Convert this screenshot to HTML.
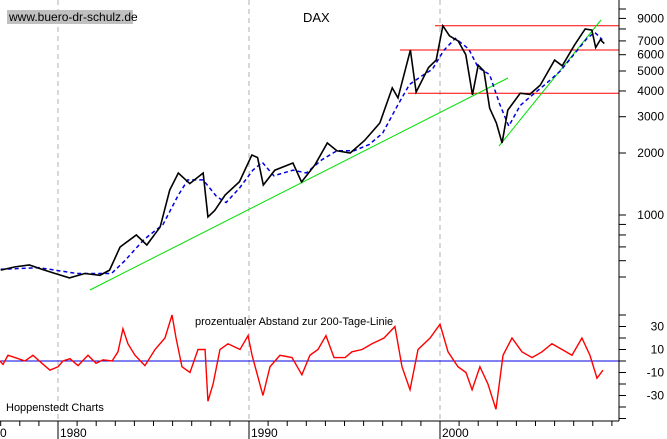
<!DOCTYPE html>
<html><head><meta charset="utf-8"><style>
html,body{margin:0;padding:0;background:#fff;}
svg{display:block;font-family:"Liberation Sans",Arial,sans-serif;}
</style></head><body>
<svg id="chart" width="667" height="439" viewBox="0 0 667 439" xmlns="http://www.w3.org/2000/svg">
<rect x="0" y="0" width="667" height="439" fill="#fff"/>
<g id="grid"></g>
<rect x="7" y="10" width="126" height="14" fill="#c0c0c0"/>
<text x="9" y="21" font-size="12" fill="#000">www.buero-dr-schulz.de</text>
<text x="303" y="22" font-size="13" fill="#000">DAX</text>
<text x="195" y="325" font-size="11" fill="#000">prozentualer Abstand zur 200-Tage-Linie</text>
<text x="6" y="411" font-size="11" fill="#000">Hoppenstedt Charts</text>
<g id="marks"></g>
<g id="axes"></g>
</svg>
<script>
const priceYears=[1977.0,1977.75,1978.5,1979.15,1979.85,1980.6,1981.4,1982.2,1982.7,1983.25,1984.1,1984.65,1985.35,1985.85,1986.3,1986.9,1987.6,1987.85,1988.2,1988.75,1989.5,1990.15,1990.45,1990.75,1991.35,1992.3,1992.75,1993.45,1994.1,1994.6,1995.3,1996.05,1996.85,1997.5,1997.8,1998.45,1998.75,1999.4,1999.8,2000.15,2000.5,2000.95,2001.35,2001.7,2002.0,2002.3,2002.6,2002.95,2003.25,2003.55,2004.2,2004.7,2005.25,2006.0,2006.4,2007.05,2007.6,2007.95,2008.15,2008.4,2008.6];
const daxValues=[540,560,572,545,520,495,520,510,540,699,800,715,875,1322,1599,1420,1599,978,1050,1250,1450,1955,1900,1398,1650,1787,1446,1750,2237,2050,2000,2300,2797,4140,3700,6320,3950,5200,5650,8290,7400,7000,6000,3830,5340,5000,3300,2800,2237,3230,3900,3850,4270,5650,5300,6700,8000,7900,6500,7100,6800];
const maYears=[1977,1979,1981,1982.8,1983.5,1984.5,1985.5,1986.3,1986.8,1987.6,1988.3,1988.8,1989.5,1990.2,1990.7,1991.3,1992.3,1993,1993.8,1994.6,1995.5,1996.3,1997,1997.7,1998.4,1999,1999.6,2000.2,2000.8,2001.5,2002,2002.6,2003.1,2003.6,2004.2,2004.8,2005.5,2006.3,2007,2007.7,2008.1,2008.5];
const maValues=[545,555,520,520,600,760,900,1250,1480,1480,1230,1150,1350,1650,1800,1550,1650,1600,1850,2050,2050,2200,2500,3300,4300,4700,5100,6300,7200,6400,5200,4800,3500,2700,3400,3800,4300,5000,6000,7200,7700,7100];
const oscYears=[1976.96,1977.12,1977.38,1977.75,1978.27,1978.69,1979.16,1979.58,1980.0,1980.26,1980.63,1981.05,1981.57,1981.99,1982.36,1982.83,1983.14,1983.40,1983.66,1984.03,1984.55,1985.08,1985.60,1985.97,1986.18,1986.49,1986.91,1987.33,1987.70,1987.85,1988.12,1988.48,1988.90,1989.53,1989.95,1990.16,1990.73,1991.10,1991.62,1992.25,1992.77,1993.19,1993.61,1994.03,1994.45,1995.03,1995.39,1995.92,1996.44,1997.07,1997.64,1998.01,1998.43,1998.85,1999.48,2000.0,2000.42,2000.94,2001.36,2001.68,2002.09,2002.51,2002.93,2003.30,2003.77,2004.29,2004.82,2005.34,2005.86,2006.39,2006.91,2007.43,2007.85,2008.22,2008.53];
const oscValues=[0,-3,5,3,0,5,-2,-8,-5,0,2,-4,5,-2,1,0,8,28,15,5,-4,10,20,40,20,-5,-10,10,10,-35,-20,10,15,10,22,5,-30,-5,5,3,-12,5,10,22,3,3,8,10,15,20,30,-5,-25,10,20,32,8,-5,-10,-25,-5,-20,-42,5,20,8,3,8,15,10,5,20,5,-15,-8];
const priceTickValues=[1000,2000,3000,4000,5000,6000,7000,9000];
const priceTickLabels=["1000","2000","3000","4000","5000","6000","7000","9000"];
const oscTickValues=[30,10,-10,-30];
const oscTickLabels=["30","10","-10","-30"];
const decadeYears=[1980,1990,2000];
const decadeLabels=["1980","1990","2000"];

const NS="http://www.w3.org/2000/svg";
const xOf=y=>58+(y-1980)*19.1;
const yPrice=v=>215-206*Math.log10(v/1000);
const yOsc=p=>361-1.15*p;
function mk(tag,attrs,parent){const e=document.createElementNS(NS,tag);for(const k in attrs)e.setAttribute(k,attrs[k]);parent.appendChild(e);return e;}
const grid=document.getElementById('grid'),marks=document.getElementById('marks'),axes=document.getElementById('axes');

decadeYears.forEach(d=>{
  const l=mk('line',{x1:xOf(d),x2:xOf(d),y1:0,y2:421,stroke:'#b0b0b0','stroke-dasharray':'5,4'},grid);
  
  
});

const h1=mk('line',{x1:435,x2:619,y1:yPrice(8290),y2:yPrice(8290),stroke:'#f00','stroke-width':1},marks);


const h2=mk('line',{x1:400,x2:619,y1:yPrice(6320),y2:yPrice(6320),stroke:'#f00','stroke-width':1},marks);


const h3=mk('line',{x1:408,x2:619,y1:yPrice(3900),y2:yPrice(3900),stroke:'#f00','stroke-width':1},marks);


const t1=mk('line',{x1:90,y1:290,x2:508,y2:78,stroke:'#00e000','stroke-width':1},marks);


const t2=mk('line',{x1:499,y1:146,x2:601,y2:20,stroke:'#00e000','stroke-width':1},marks);



const zl=mk('line',{x1:0,x2:619,y1:yOsc(0),y2:yOsc(0),stroke:'#0000e0','stroke-width':1},marks);



const maPath=mk('polyline',{points:maYears.map((y,i)=>xOf(y)+','+yPrice(maValues[i])).join(' '),fill:'none',stroke:'#0000e0','stroke-width':1.5,'stroke-dasharray':'4,3'},marks);


const pPath=mk('polyline',{points:priceYears.map((y,i)=>xOf(y)+','+yPrice(daxValues[i])).join(' '),fill:'none',stroke:'#000','stroke-width':1.6},marks);


const oPath=mk('polyline',{points:oscYears.map((y,i)=>xOf(y)+','+yOsc(oscValues[i])).join(' '),fill:'none',stroke:'#f00','stroke-width':1.4},marks);



const ra=mk('line',{x1:619,x2:619,y1:0,y2:421,stroke:'#000'},axes);


const ba=mk('line',{x1:0,x2:619,y1:421,y2:421,stroke:'#000'},axes);


for(let v=500;v<=10000;v+=(v<1000?100:1000)){
  const t=mk('line',{x1:619,x2:626,y1:yPrice(v),y2:yPrice(v),stroke:'#000'},axes);
  
  
}
priceTickValues.forEach((v,i)=>{
  const t=mk('text',{x:664,y:yPrice(v)+4,'font-size':12,'text-anchor':'end',fill:'#000'},axes);
  t.textContent=priceTickLabels[i];
  
  
});
for(let p=-50;p<=40;p+=10){
  const t=mk('line',{x1:619,x2:626,y1:yOsc(p),y2:yOsc(p),stroke:'#000'},axes);
  
  
}
oscTickValues.forEach((v,i)=>{
  const t=mk('text',{x:664,y:yOsc(v)+4,'font-size':12,'text-anchor':'end',fill:'#000'},axes);
  t.textContent=oscTickLabels[i];
  
  
});
for(let y=1977;y<=2009;y++){
  const dec=y%10===0;
  const t=mk('line',{x1:xOf(y),x2:xOf(y),y1:421,y2:dec?439:426,stroke:'#000'},axes);
  
  
}
decadeYears.forEach((d,i)=>{
  const t=mk('text',{x:xOf(d)+2,y:437,'font-size':12,fill:'#000'},axes);
  t.textContent=decadeLabels[i];
  
  
});
const z=mk('text',{x:0,y:437,'font-size':12,fill:'#000'},axes);
z.textContent='0';


</script>
</body></html>
